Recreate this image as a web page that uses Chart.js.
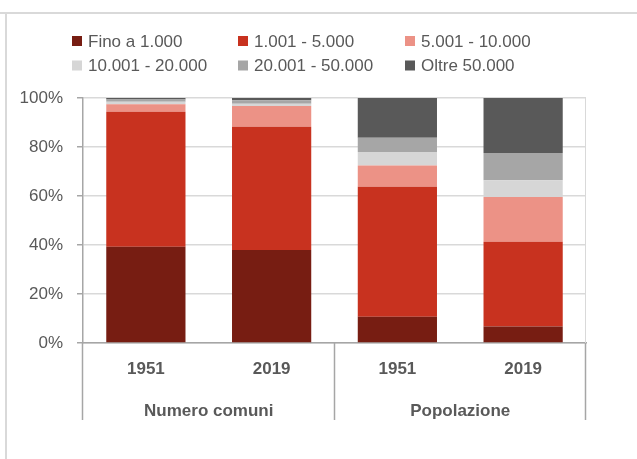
<!DOCTYPE html>
<html>
<head>
<meta charset="utf-8">
<script src="https://cdn.jsdelivr.net/npm/chart.js@4"></script>
<style>
  body { margin: 0; background: #fff; }
  #wrap { width: 637px; height: 459px; }
</style>
</head>
<body>
<div id="wrap"><canvas id="barChart" width="637" height="459"></canvas></div>
<script>
const categories = ['1951', '2019', '1951', '2019'];
const groups = ['Numero comuni', 'Popolazione'];
const yTicks = [0, 20, 40, 60, 80, 100];

const fino1000 = [39.3, 38.0, 10.7, 6.7];
const da1001 = [55.1, 50.3, 53.1, 34.6];
const da5001 = [3.0, 8.4, 8.7, 18.3];
const da10001 = [1.1, 1.0, 5.5, 6.8];
const da20001 = [0.9, 1.4, 5.8, 11.2];
const oltre50000 = [0.6, 0.9, 16.2, 22.4];

const seriesNames = ['Fino a 1.000', '1.001 - 5.000', '5.001 - 10.000', '10.001 - 20.000', '20.001 - 50.000', 'Oltre 50.000'];
const seriesValues = [fino1000, da1001, da5001, da10001, da20001, oltre50000];
const seriesColors = ['#771d12', '#c8321f', '#ec9286', '#d6d6d6', '#a6a6a6', '#595959'];

const FONT = "'Liberation Sans', Arial, sans-serif";
const TEXT = '#595959';
const AXIS = '#a6a6a6';
const GRID = '#d9d9d9';

Chart.defaults.font.family = FONT;
Chart.defaults.color = TEXT;

// legend, frame and grouped category labels
const extras = {
  id: 'extras',
  afterDraw(chart) {
    const ctx = chart.ctx;
    const area = chart.chartArea;
    const x = chart.scales.x;
    ctx.save();

    // outer frame
    ctx.strokeStyle = GRID;
    ctx.lineWidth = 2;
    ctx.beginPath();
    ctx.moveTo(0, 13);
    ctx.lineTo(637, 13);
    ctx.moveTo(6, 13);
    ctx.lineTo(6, 459);
    ctx.stroke();

    // right border of plot
    ctx.lineWidth = 1;
    ctx.beginPath();
    ctx.moveTo(area.right - 0.5, area.top);
    ctx.lineTo(area.right - 0.5, area.bottom);
    ctx.stroke();

    // legend
    const colX = [72, 238, 405];
    const rowY = [41, 65.5];
    ctx.font = '17px ' + FONT;
    ctx.textBaseline = 'middle';
    ctx.textAlign = 'left';
    chart.data.datasets.forEach((ds, i) => {
      const cx = colX[i % 3];
      const cy = rowY[Math.floor(i / 3)];
      ctx.fillStyle = ds.backgroundColor;
      ctx.fillRect(cx, cy - 5, 10, 10);
      ctx.fillStyle = TEXT;
      ctx.fillText(ds.label, cx + 16, cy + 1);
    });

    // group separators and labels
    const n = categories.length / groups.length;
    const seps = [area.left];
    for (let g = 1; g < groups.length; g++) {
      seps.push((x.getPixelForValue(g * n - 1) + x.getPixelForValue(g * n)) / 2);
    }
    seps.push(area.right);
    ctx.strokeStyle = AXIS;
    ctx.lineWidth = 1.5;
    ctx.beginPath();
    seps.forEach(sx => {
      ctx.moveTo(Math.round(sx) - 0.5, area.bottom);
      ctx.lineTo(Math.round(sx) - 0.5, 420);
    });
    ctx.stroke();

    ctx.font = 'bold 17px ' + FONT;
    ctx.textAlign = 'center';
    ctx.fillStyle = TEXT;
    groups.forEach((name, g) => {
      const mid = (x.getPixelForValue(g * n) + x.getPixelForValue(g * n + n - 1)) / 2;
      ctx.fillText(name, mid, 411);
    });
    ctx.restore();
  }
};

const data = {
  labels: categories,
  datasets: seriesNames.map((name, i) => ({
    label: name,
    data: seriesValues[i],
    backgroundColor: seriesColors[i],
    borderWidth: 0,
    barPercentage: 0.63,
    categoryPercentage: 1.0
  }))
};

const config = {
  type: 'bar',
  data: data,
  options: {
    responsive: false,
    animation: false,
    layout: {
      padding: { left: 0, top: 98, right: 51, bottom: 0 }
    },
    plugins: {
      legend: { display: false },
      tooltip: { enabled: false }
    },
    scales: {
      x: {
        stacked: true,
        grid: { display: false, drawTicks: false },
        border: { display: true, color: AXIS, width: 1.5 },
        ticks: {
          color: TEXT,
          padding: 16,
          font: { size: 17, weight: 'bold' }
        },
        afterFit(scale) { scale.height = 116; }
      },
      y: {
        stacked: true,
        min: 0,
        max: 100,
        afterBuildTicks(scale) { scale.ticks = yTicks.map(v => ({ value: v })); },
        grid: { color: GRID, tickColor: AXIS, tickLength: 6, lineWidth: 1.5 },
        border: { display: true, color: AXIS, width: 1.5 },
        ticks: {
          color: TEXT,
          padding: 14,
          font: { size: 17 },
          callback: v => v + '%'
        },
        afterFit(scale) { scale.width = 83; }
      }
    }
  },
  plugins: [extras]
};

const barChart = new Chart(document.getElementById('barChart'), config);
</script>
</body>
</html>
